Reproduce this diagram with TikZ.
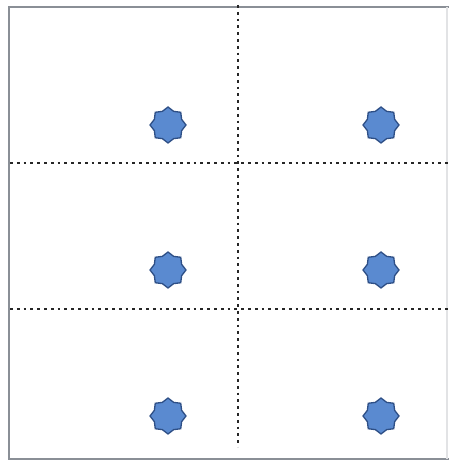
\documentclass[tikz,border=0pt]{standalone}
\usetikzlibrary{shapes.geometric}
\definecolor{starfill}{HTML}{5A8AD0}
\definecolor{stardraw}{HTML}{2E4F86}
\definecolor{framegray}{HTML}{8A8F96}
\tikzset{
  dot/.style={star, star points=8, star point ratio=1.22, minimum size=36pt, inner sep=0pt,
    fill=starfill, draw=stardraw, line width=1.3pt},
  grid/.style={line width=2.6pt, dash pattern=on 2.8pt off 4pt, black!85},
  frame/.style={line width=2.2pt, draw=framegray}
}
\begin{document}
\begin{tikzpicture}[x=1pt,y=1pt]
\useasboundingbox (0,0) rectangle (449,462);
\coordinate (ftr) at (449,455);
\coordinate (ftl) at (9,455);
\coordinate (fbl) at (9,3);
\coordinate (fbr) at (449,3);
\draw[frame] (ftr) -- (ftl) -- (fbl) -- (fbr);
\draw[line width=1.5pt, framegray!25] (447,455) -- (447,3);
\coordinate (vt) at (238,457);
\coordinate (vb) at (238,15);
\coordinate (h1l) at (10,299);
\coordinate (h1r) at (449,299);
\coordinate (h2l) at (10,153);
\coordinate (h2r) at (449,153);
\draw[grid] (vt) -- (vb);
\draw[grid] (h1l) -- (h1r);
\draw[grid] (h2l) -- (h2r);
\node[dot] (a1) at (168,337) {};
\node[dot] (a2) at (381,337) {};
\node[dot] (b1) at (168,192) {};
\node[dot] (b2) at (381,192) {};
\node[dot] (c1) at (168,46) {};
\node[dot] (c2) at (381,46) {};
\end{tikzpicture}
\end{document}
